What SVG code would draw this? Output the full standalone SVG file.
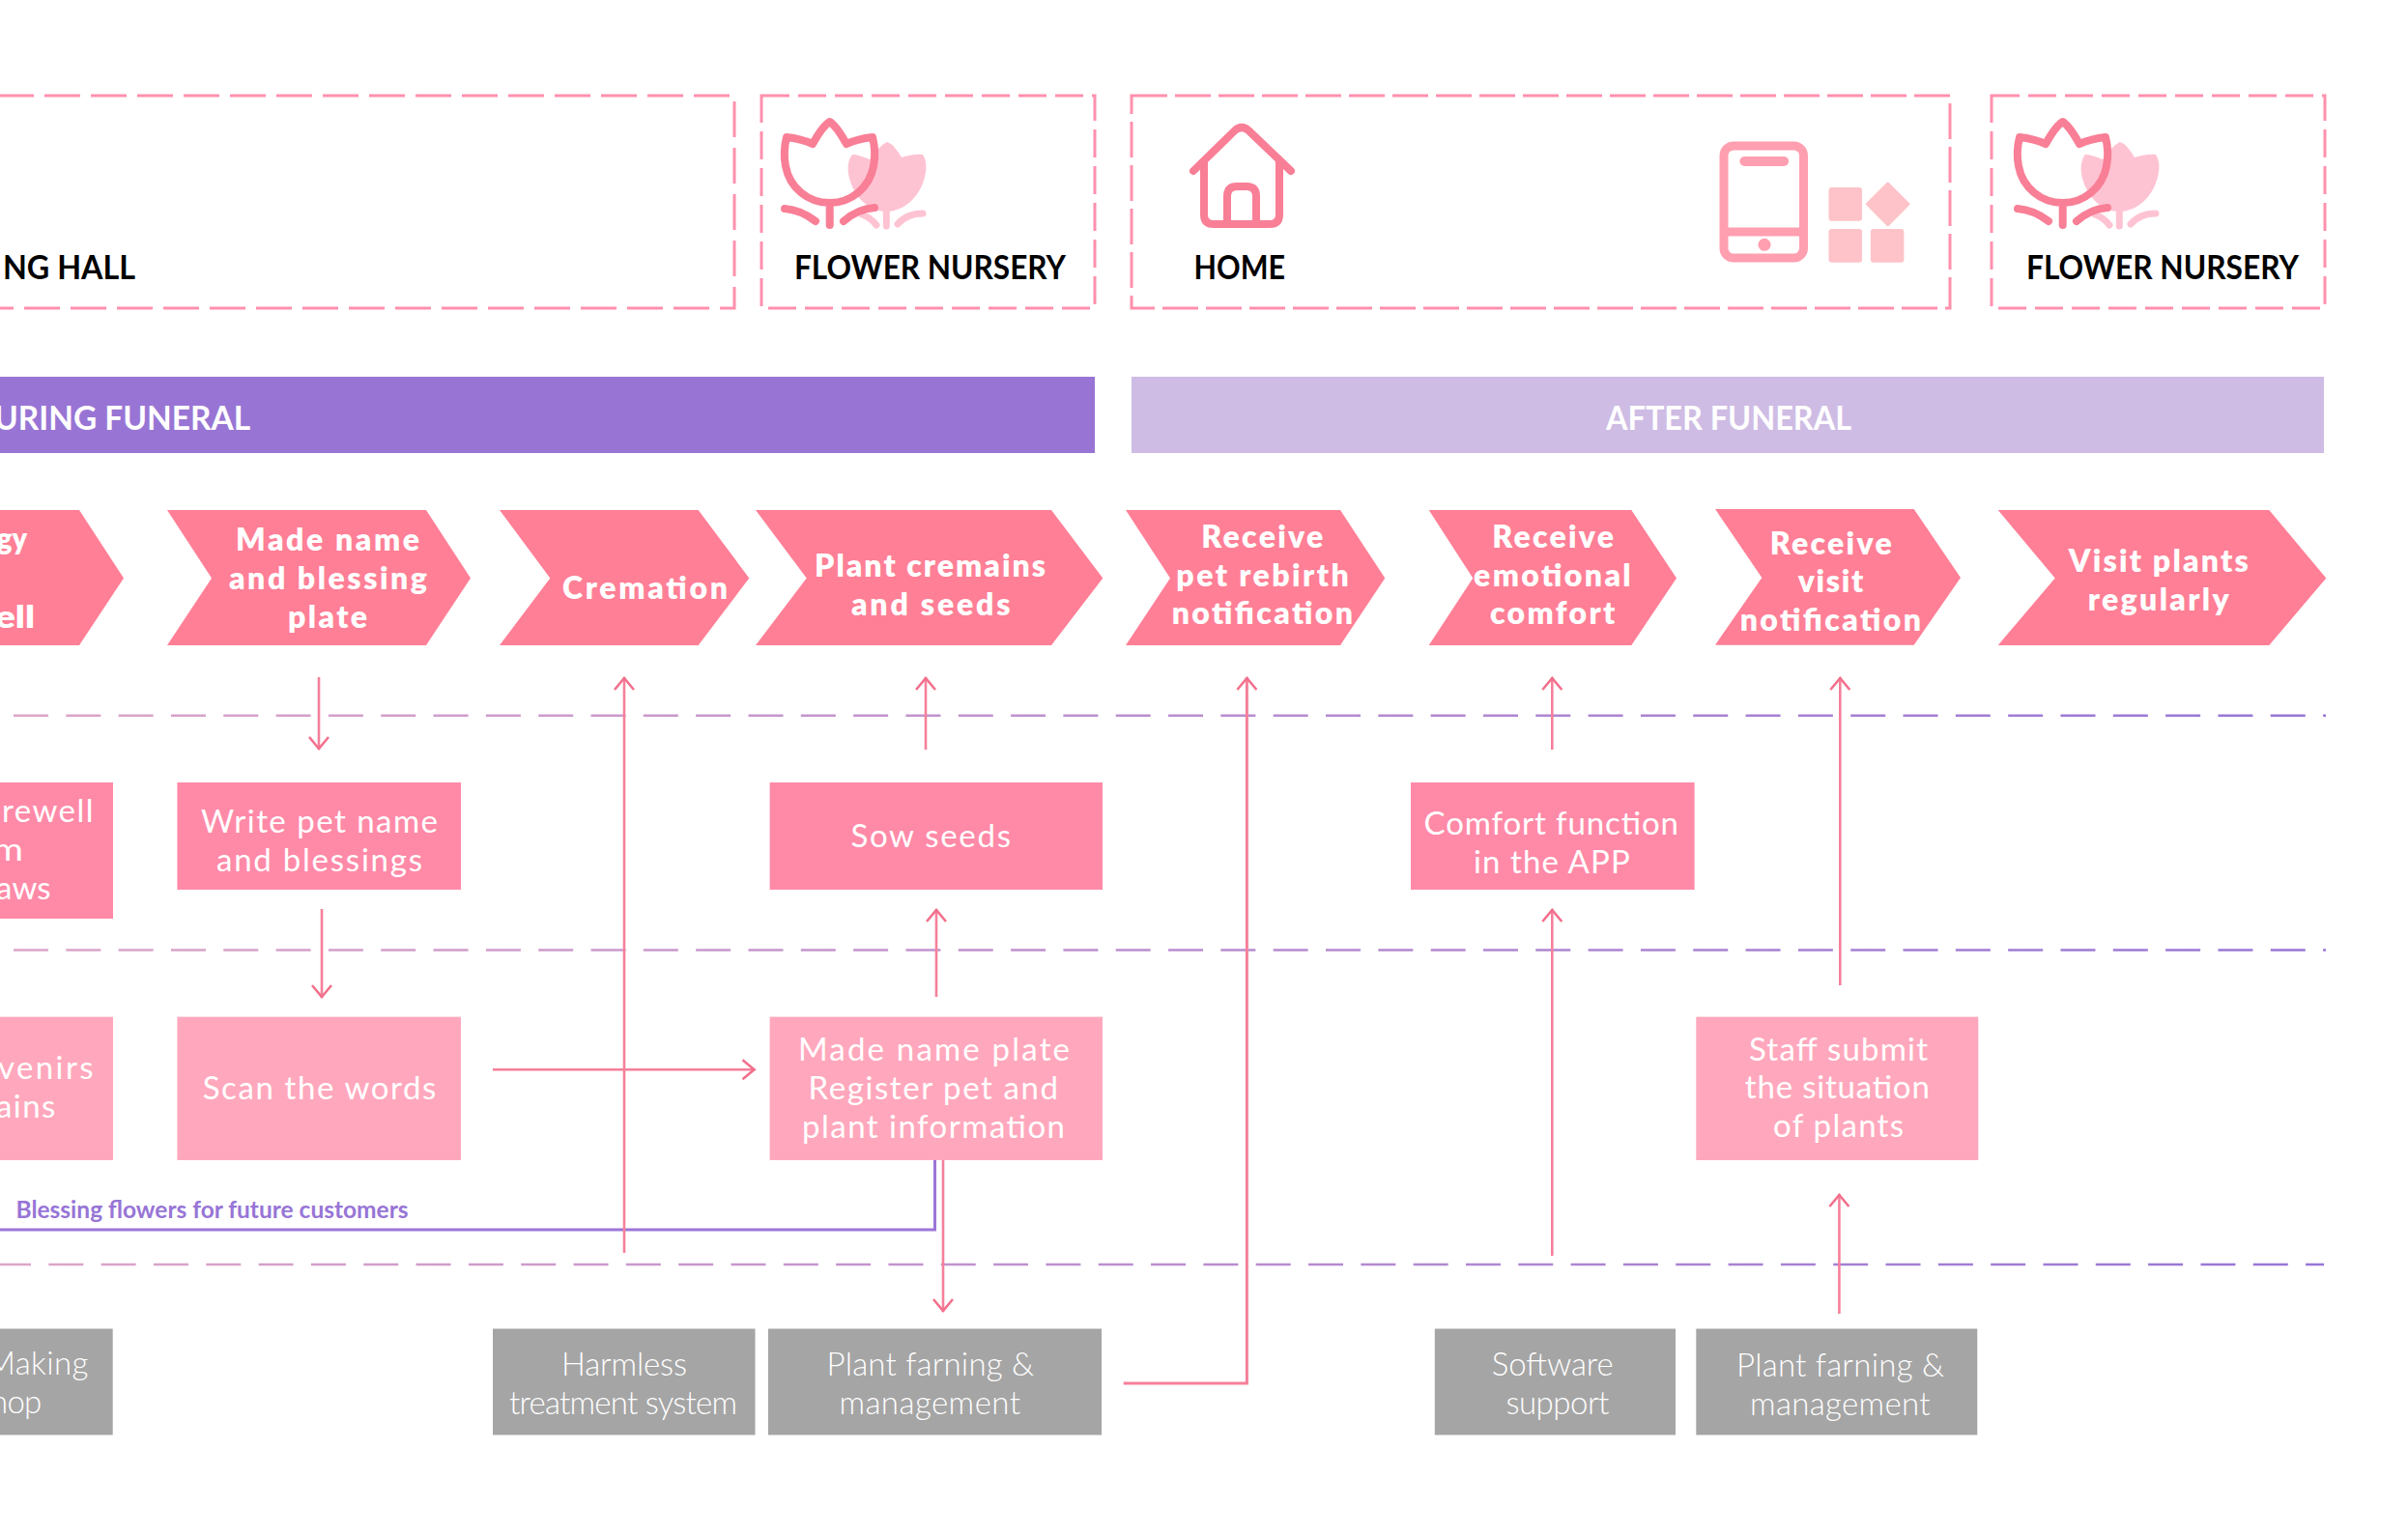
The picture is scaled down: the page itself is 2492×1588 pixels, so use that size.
<svg xmlns="http://www.w3.org/2000/svg" width="2492" height="1588" viewBox="0 0 2492 1588">
<style>
text{font-family:Lato,"Liberation Sans",sans-serif}
.place{fill:none;stroke:#ff90ad;stroke-width:3}
.pl{font-size:35px;font-weight:700;fill:#000}
.ph{font-size:35px;font-weight:700;fill:#fff}
.chev{fill:#ff7f96}
.ct{font-size:32px;font-weight:800;fill:#fff}
.r1{fill:#ff8aa8}
.r2{fill:#ffa8bd}
.r3{fill:#a5a5a5}
.bt{font-size:33px;font-weight:400;fill:#fff}
.gt{font-size:33px;font-weight:300;fill:#fff}
.lane{fill:none;stroke:url(#laneGrad);stroke-width:2.6;stroke-dasharray:36 18.32}
.con{fill:none;stroke:#f5809a;stroke-width:2.6}
.arr{marker-end:url(#head)}
.ic{fill:none;stroke:#f87f96;stroke-width:8;stroke-linecap:round;stroke-linejoin:round}
.icb{fill:none;stroke:#fec3d3;stroke-width:7;stroke-linecap:round}
</style>
<defs>
<linearGradient id="laneGrad" gradientUnits="userSpaceOnUse" x1="0" y1="0" x2="2407" y2="0">
<stop offset="0" stop-color="#dda6c8"/><stop offset="1" stop-color="#9775d6"/>
</linearGradient>
<marker id="head" markerUnits="userSpaceOnUse" markerWidth="32" markerHeight="32" refX="16" refY="12" orient="auto" overflow="visible">
<path d="M3 2 L15 12 L3 22" fill="none" stroke="#f2708c" stroke-width="2.600"/>
</marker>
<g id="tulip">
<path d="M138 57C132 60 124 68 120 75C113 72 107 70 102 70C98 75 97 82 98 90C102 112 118 129 137 129C158 129 175 110 178 88C179 80 178 75 175 70C168 69 160 71 153 73C149 66 144 59 138 57Z" fill="#fec3d3"/>
<path class="icb" d="M137.300 128V144M175 131C165 131 155 135 149 142M112 132C118 134 123 138 127 143"/>
<path class="ic" d="M78.700 36C72 40 66 50 61 59C52 55 43 53 34 52C32 60 31 72 33 82C37 104 56 120 78.700 120C101 120 120 104 124 82C126 72 125 60 123 52C114 53 105 55 96 59C91 50 85 40 78.700 36ZM78.700 120V143M32 126C45 127 55 132 64 139M125 125C112 126 102 131 93 139"/>
</g>
</defs>
<rect width="2492" height="1588" fill="#fff"/>

<g id="lanes">
<line class="lane" x1="14" y1="740.700" x2="2407" y2="740.700"/>
<line class="lane" x1="14" y1="983.500" x2="2407" y2="983.500"/>
<line class="lane" x1="-4" y1="1309" x2="2405" y2="1309"/>
</g>

<g id="place-hall"><rect class="place" x="-50" y="99" width="810" height="220" stroke-dasharray="37 11"/><text class="pl" x="3" y="289" textLength="137" lengthAdjust="spacingAndGlyphs">NG HALL</text></g>
<g id="place-nursery-1"><rect class="place" x="788" y="99" width="345" height="220" stroke-dasharray="29 9"/><use href="#tulip" x="780" y="90"/><text class="pl" x="822" y="289" textLength="281" lengthAdjust="spacingAndGlyphs">FLOWER NURSERY</text></g>
<g id="place-home"><rect class="place" x="1171" y="99" width="847" height="220" stroke-dasharray="37 8"/>
<path class="ic" d="M1235 177L1278 135Q1285 129 1292 135L1336 177M1246 167V222Q1246 232 1256 232H1314Q1324 232 1324 222V167M1270 232V203Q1270 193 1280 193H1290Q1300 193 1300 203V232" stroke-linecap="butt"/>
<text class="pl" x="1235.500" y="289" textLength="94.500" lengthAdjust="spacingAndGlyphs">HOME</text>
<rect x="1784" y="151" width="82.500" height="116" rx="10" fill="none" stroke="#ff9fb0" stroke-width="9"/>
<path d="M1784 240H1866" stroke="#ff9fb0" stroke-width="9" fill="none"/>
<rect x="1800.400" y="162" width="50.700" height="10" rx="5" fill="#ff9fb0"/>
<circle cx="1826" cy="253.300" r="6.500" fill="#ff9fb0"/>
<rect x="1892.500" y="194" width="34.500" height="34.700" rx="3" fill="#fec3c8"/>
<rect x="1892.500" y="237" width="34.500" height="34.700" rx="3" fill="#fec3c8"/>
<rect x="1935.900" y="237" width="34.500" height="34.700" rx="3" fill="#fec3c8"/>
<path d="M1953.700 190L1975 211.300L1953.700 232.600L1932.400 211.300Z" fill="#fec3c8" stroke="#fec3c8" stroke-width="3" stroke-linejoin="round"/>
</g>
<g id="place-nursery-2"><rect class="place" x="2061" y="99" width="345" height="220" stroke-dasharray="29 9"/><use href="#tulip" x="2056" y="90"/><text class="pl" x="2097" y="289" textLength="282" lengthAdjust="spacingAndGlyphs">FLOWER NURSERY</text></g>

<g id="phase-during"><rect x="0" y="390" width="1133" height="79" fill="#9875d4"/><text class="ph" x="-6" y="445" textLength="265" lengthAdjust="spacingAndGlyphs">URING FUNERAL</text></g>
<g id="phase-after"><rect x="1171" y="390" width="1234" height="79" fill="#cebce4"/><text class="ph" x="1662" y="445" textLength="254" lengthAdjust="spacingAndGlyphs">AFTER FUNERAL</text></g>

<g id="step-0"><path class="chev" d="M-40 528H82L128 598.500L82 668H-40Z"/><text class="ct" x="-3" y="569" textLength="31" lengthAdjust="spacingAndGlyphs">gy</text><text class="ct" x="-5" y="650" textLength="41" lengthAdjust="spacingAndGlyphs">ell</text></g>
<g id="step-1"><path class="chev" d="M173 528H441L487 598.500L441 668H173L219 598.500Z"/><text class="ct" x="244" y="570" textLength="190">Made name</text><text class="ct" x="237" y="610" textLength="205">and blessing</text><text class="ct" x="298" y="650" textLength="82">plate</text></g>
<g id="step-2"><path class="chev" d="M517 528H722.700L775.300 598.500L722.700 668H517L569.300 598.500Z"/><text class="ct" x="582" y="620" textLength="171">Cremation</text></g>
<g id="step-3"><path class="chev" d="M782 528H1088L1141.300 598.500L1088 668H782L834.700 598.500Z"/><text class="ct" x="843" y="597.300" textLength="239">Plant cremains</text><text class="ct" x="881" y="636.700" textLength="164.500">and seeds</text></g>
<g id="step-4"><path class="chev" d="M1165 528H1387L1433.300 598.500L1387 668H1165L1211 598.500Z"/><text class="ct" x="1243.300" y="566.700" textLength="126">Receive</text><text class="ct" x="1217.300" y="606.700" textLength="178.400">pet rebirth</text><text class="ct" x="1212.700" y="645.700" textLength="187.300">notification</text></g>
<g id="step-5"><path class="chev" d="M1478.700 528H1688.300L1735 598.500L1688.300 668H1478.700L1524.300 598.500Z"/><text class="ct" x="1544.300" y="566.700" textLength="125.700">Receive</text><text class="ct" x="1525" y="606.700" textLength="162.700">emotional</text><text class="ct" x="1542" y="645.700" textLength="129.300">comfort</text></g>
<g id="step-6"><path class="chev" d="M1775 527H1980.700L2029 598L1980.700 667.700H1775L1823.300 598Z"/><text class="ct" x="1831.700" y="574" textLength="126">Receive</text><text class="ct" x="1860.700" y="613" textLength="67.600">visit</text><text class="ct" x="1800.700" y="652.700" textLength="187.300">notification</text></g>
<g id="step-7"><path class="chev" d="M2067.700 528H2348.300L2407.300 598.500L2348.300 668H2067.700L2126.700 598.500Z"/><text class="ct" x="2140.700" y="591.700" textLength="186">Visit plants</text><text class="ct" x="2160.700" y="631.700" textLength="146">regularly</text></g>

<g id="act-farewell"><rect class="r1" x="-10" y="810" width="127" height="141"/><text class="bt" x="2" y="850.500" textLength="94.500">rewell</text><text class="bt" x="-8" y="890.500" textLength="32" lengthAdjust="spacingAndGlyphs">m</text><text class="bt" x="-4" y="930.700" textLength="56.600">aws</text></g>
<g id="act-write"><rect class="r1" x="183.400" y="810" width="293.600" height="111"/><text class="bt" x="208" y="862" textLength="245">Write pet name</text><text class="bt" x="224" y="902" textLength="213">and blessings</text></g>
<g id="act-sow"><rect class="r1" x="796.600" y="810" width="344.400" height="111"/><text class="bt" x="880.400" y="876.500" textLength="165.600">Sow seeds</text></g>
<g id="act-comfort"><rect class="r1" x="1460" y="810" width="293.600" height="111"/><text class="bt" x="1473.600" y="864" textLength="263.400">Comfort function</text><text class="bt" x="1525" y="903.800" textLength="161.800">in the APP</text></g>

<g id="back-souvenirs"><rect class="r2" x="-10" y="1052.600" width="127" height="148.400"/><text class="bt" x="-2" y="1117" textLength="98.500">venirs</text><text class="bt" x="-4" y="1157" textLength="61.400">ains</text></g>
<g id="back-scan"><rect class="r2" x="183.400" y="1052.600" width="293.600" height="148.400"/><text class="bt" x="209.700" y="1137.500" textLength="241.700">Scan the words</text></g>
<g id="back-plate"><rect class="r2" x="796.600" y="1052.600" width="344.400" height="148.400"/><text class="bt" x="826" y="1097.500" textLength="281">Made name plate</text><text class="bt" x="836.500" y="1137.500" textLength="258.500">Register pet and</text><text class="bt" x="830" y="1177.500" textLength="272">plant information</text></g>
<g id="back-staff"><rect class="r2" x="1755.300" y="1052.600" width="292" height="148.400"/><text class="bt" x="1810" y="1097.500" textLength="185">Staff submit</text><text class="bt" x="1805.800" y="1137" textLength="191">the situation</text><text class="bt" x="1835" y="1177" textLength="135">of plants</text></g>

<g id="sup-making"><rect class="r3" x="-10" y="1375.500" width="126.700" height="110"/><text class="gt" x="-14" y="1423.300" textLength="105.300">Making</text><text class="gt" x="-10" y="1463.300" textLength="53.300">hop</text></g>
<g id="sup-harmless"><rect class="r3" x="510" y="1375.500" width="271.500" height="110"/><text class="gt" x="581" y="1424" textLength="130">Harmless</text><text class="gt" x="527" y="1464" textLength="236">treatment system</text></g>
<g id="sup-farming-1"><rect class="r3" x="795" y="1375.500" width="345" height="110"/><text class="gt" x="855.600" y="1424" textLength="214.400">Plant farning &amp;</text><text class="gt" x="868.400" y="1464" textLength="187.600">management</text></g>
<g id="sup-software"><rect class="r3" x="1484.800" y="1375.500" width="249.200" height="110"/><text class="gt" x="1543.800" y="1424" textLength="125.900">Software</text><text class="gt" x="1558.400" y="1464" textLength="107">support</text></g>
<g id="sup-farming-2"><rect class="r3" x="1755.300" y="1375.500" width="291" height="110"/><text class="gt" x="1797" y="1424.500" textLength="215">Plant farning &amp;</text><text class="gt" x="1811" y="1465" textLength="186.600">management</text></g>

<g id="connectors">
<path d="M-5 1273H967.500V1201" fill="none" stroke="#9a76d6" stroke-width="3"/>
<path class="con arr" d="M330 701V776"/>
<path class="con arr" d="M333 941V1033"/>
<path class="con arr" d="M646 1297V701"/>
<path class="con arr" d="M958 776V701"/>
<path class="con arr" d="M969 1032V941"/>
<path class="con arr" d="M510 1107.300H781.500"/>
<path class="con arr" d="M976 1201V1358"/>
<path class="con arr" style="stroke-width:3" d="M1162.700 1432H1290.400V701"/>
<path class="con arr" d="M1606.300 776V701"/>
<path class="con arr" d="M1606.300 1300V941"/>
<path class="con arr" d="M1904.300 1020V701"/>
<path class="con arr" d="M1903.400 1360V1236"/>
</g>
<text id="label-blessing" x="16.500" y="1260.700" font-size="25" font-weight="700" fill="#9775d6" textLength="406" lengthAdjust="spacingAndGlyphs">Blessing flowers for future customers</text>
</svg>
